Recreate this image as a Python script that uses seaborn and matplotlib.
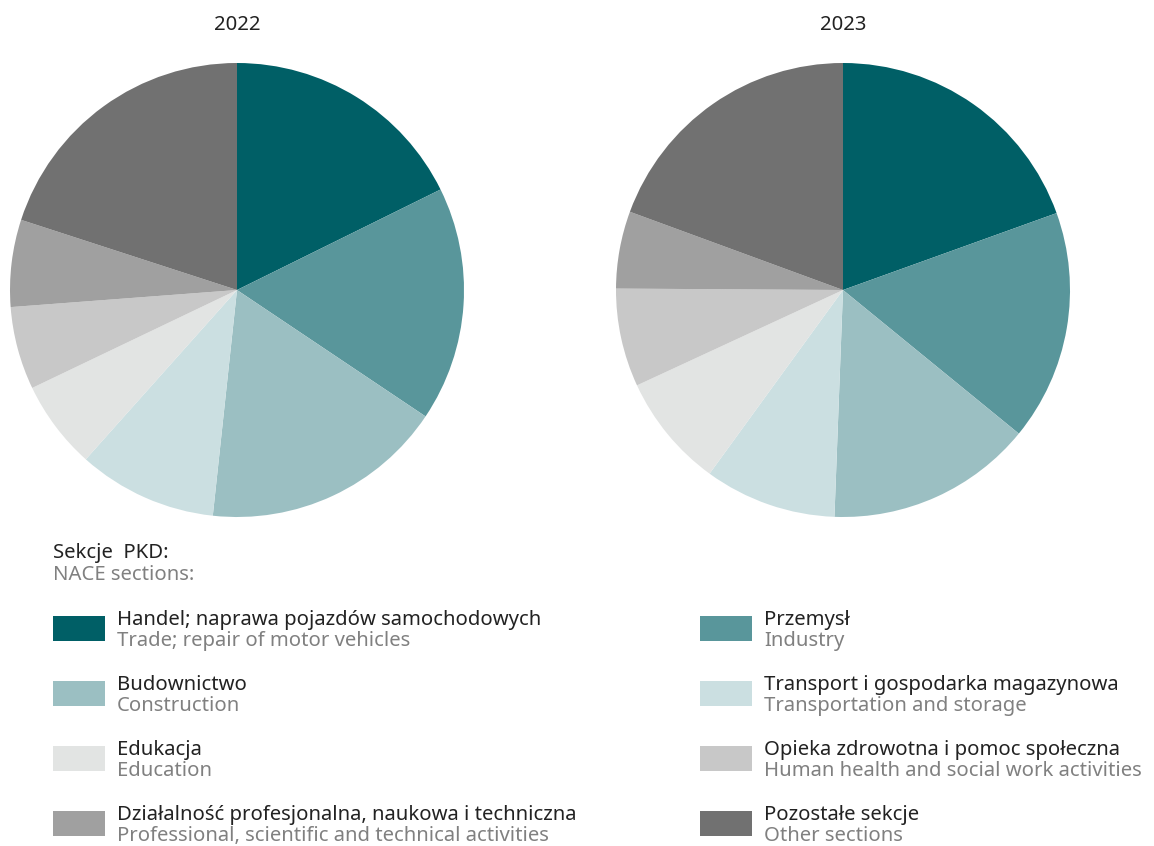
import matplotlib
matplotlib.use("Agg")
import matplotlib.pyplot as plt
import seaborn as sns
from matplotlib.patches import Rectangle

sns.set_theme(style="white")
plt.rcParams['font.family'] = ['Noto Sans', 'DejaVu Sans']

years = ["2022", "2023"]
labels_pl = ["Handel; naprawa pojazdów samochodowych", "Przemysł", "Budownictwo",
             "Transport i gospodarka magazynowa", "Edukacja",
             "Opieka zdrowotna i pomoc społeczna",
             "Działalność profesjonalna, naukowa i techniczna", "Pozostałe sekcje"]
labels_en = ["Trade; repair of motor vehicles", "Industry", "Construction",
             "Transportation and storage", "Education",
             "Human health and social work activities",
             "Professional, scientific and technical activities", "Other sections"]
share_2022 = [17.7, 16.7, 17.3, 9.9, 6.3, 5.9, 6.2, 20.0]
share_2023 = [19.5, 16.4, 14.7, 9.4, 8.1, 7.0, 5.5, 19.4]
colors = ["#005f66", "#59969b", "#9bbfc2", "#cbdfe1", "#e2e4e3",
          "#c8c8c8", "#a0a0a0", "#717171"]

W, H = 1154, 846
FS = 14.6
fig = plt.figure(figsize=(W / 100, H / 100), dpi=100)

# pies
for year, shares, left in zip(years, [share_2022, share_2023], [10, 616]):
    ax = fig.add_axes([left / W, (H - 517) / H, 454 / W, 454 / H])
    ax.pie(shares, colors=colors, startangle=90, counterclock=False,
           wedgeprops=dict(linewidth=0))
    ax.set_xlim(-1, 1)
    ax.set_ylim(-1, 1)
    ax.set_aspect("equal")
    ax.text(0.5, (H - 30 - (H - 517)) / 454, year, transform=ax.transAxes,
            ha="center", va="baseline", fontsize=FS, color="#222222")

# legend, drawn in pixel units
lg = fig.add_axes([0, 0, 1, 1], zorder=-1)
lg.set_xlim(0, W)
lg.set_ylim(H, 0)
lg.axis("off")

lg.text(53, 558, "Sekcje  PKD:", fontsize=FS, color="#222222", va="baseline")
lg.text(53, 580, "NACE sections:", fontsize=FS, color="#808080", va="baseline")

for i, (pl, en, c) in enumerate(zip(labels_pl, labels_en, colors)):
    row, col = i // 2, i % 2
    x0 = 53 + col * 647
    y0 = 616 + row * 65
    lg.add_patch(Rectangle((x0, y0), 52, 25, color=c, lw=0))
    lg.text(x0 + 64, y0 + 9, pl, fontsize=FS, color="#222222", va="baseline")
    lg.text(x0 + 64, y0 + 30, en, fontsize=FS, color="#808080", va="baseline")

fig.savefig("out.png", dpi=100)
